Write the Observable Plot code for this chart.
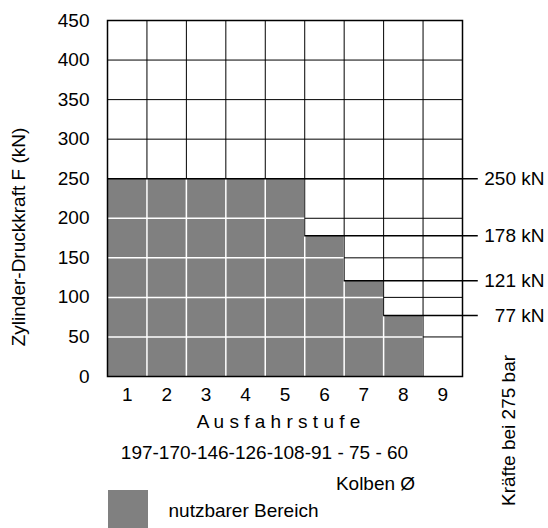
<!DOCTYPE html>
<html>
<head>
<meta charset="utf-8">
<script src="https://cdn.jsdelivr.net/npm/d3@7"></script>
<script src="https://cdn.jsdelivr.net/npm/@observablehq/plot@0.6"></script>
<style>
  html, body { margin: 0; padding: 0; background: #fff; }
</style>
</head>
<body>
<div id="chart"></div>
<script>
// ---- data ----
const stages = [1, 2, 3, 4, 5, 6, 7, 8, 9];
const forces = [250, 250, 250, 250, 250, 178, 121, 77, 0];
const yTicks = [0, 50, 100, 150, 200, 250, 300, 350, 400, 450];
const forceMarks = [250, 178, 121, 77];
const forceUnit = "kN";
const diameterLabel = "197-170-146-126-108-91 - 75 - 60";
const xTitle = "A u s f a h r s t u f e";
const yTitle = "Zylinder-Druckkraft F (kN)";
const pistonLabel = "Kolben Ø";
const sideLabel = "Kräfte bei 275 bar";
const legendLabel = "nutzbarer Bereich";

// ---- derived tables ----
const grey = "#808080";
const bars = stages.map((s, i) => ({stage: s, force: forces[i]})).filter(d => d.force > 0);
const boundaries = d3.range(stages.length + 1).map(i => stages[0] - 0.5 + i);
// white vertical lines inside the grey area
const whiteV = stages.slice(0, -1).map((s, i) => ({x: s + 0.5, y2: Math.min(forces[i], forces[i + 1])})).filter(d => d.y2 > 0);
// white horizontal lines inside the grey area
const whiteH = yTicks.filter(t => t > 0).map(t => ({y: t, x2: stages[0] - 0.5 + forces.filter(f => f > t).length})).filter(d => d.x2 > stages[0] - 0.5);
// force lines from the first column carrying that value to the label
const lineEnd = 9.9;
const forceLines = forceMarks.map(v => ({y: v, x1: stages[forces.indexOf(v)] - 0.5}));

const W = 548, H = 528;
const font = "'Liberation Sans', Arial, Helvetica, sans-serif";

const chart = Plot.plot({
  width: W,
  height: H,
  marginLeft: 107,
  marginRight: 86,
  marginTop: 20,
  marginBottom: 152,
  style: {fontFamily: font, fontSize: "19px", background: "#fff", color: "#000"},
  x: {domain: [0.5, 9.5], axis: null},
  y: {domain: [0, 450], axis: null},
  marks: [
    // black grid
    Plot.ruleY(yTicks, {stroke: "#000", strokeWidth: 1}),
    Plot.ruleX(boundaries, {stroke: "#000", strokeWidth: 1}),
    // usable range
    Plot.rectY(bars, {x1: d => d.stage - 0.5, x2: d => d.stage + 0.5, y1: 0, y2: "force", fill: grey}),
    // white grid inside grey
    Plot.ruleX(whiteV, {x: "x", y1: 0, y2: "y2", stroke: "#fff", strokeWidth: 1.5}),
    Plot.ruleY(whiteH, {y: "y", x1: 0.5, x2: "x2", stroke: "#fff", strokeWidth: 1.5}),
    // force lines
    Plot.ruleY(forceLines, {y: "y", x1: "x1", x2: lineEnd, stroke: "#000", strokeWidth: 1.5, clip: false}),
    Plot.frame({stroke: "#000", strokeWidth: 1.5}),
    // axes
    Plot.axisY(yTicks, {tickSize: 0, tickPadding: 18, fontSize: 19, label: null}),
    Plot.axisX(stages, {tickSize: 0, tickPadding: 11, fontSize: 19, label: null, tickFormat: d => String(d)}),
    // force labels
    Plot.text(forceMarks, {y: d => d, text: d => `${d} ${forceUnit}`, frameAnchor: "right", dx: 82, textAnchor: "end", fontSize: 19}),
    // titles
    Plot.text([yTitle], {frameAnchor: "left", textAnchor: "middle", rotate: -90, dx: -88.5, dy: 38.5, fontSize: 19}),
    Plot.text([sideLabel], {frameAnchor: "bottom-right", textAnchor: "middle", rotate: -90, dx: 52.5, dy: 54, fontSize: 19}),
    Plot.text([xTitle], {frameAnchor: "bottom", dx: -6.5, dy: 51, fontSize: 19}),
    Plot.text([diameterLabel], {frameAnchor: "bottom", dx: -20.5, dy: 82, fontSize: 19}),
    Plot.text([pistonLabel], {frameAnchor: "bottom", dx: 90.5, dy: 113, fontSize: 19}),
    Plot.text([legendLabel], {frameAnchor: "bottom-left", textAnchor: "start", dx: 61, dy: 140, fontSize: 19})
  ]
});

// legend swatch
d3.select(chart).append("rect")
  .attr("x", 108).attr("y", 490).attr("width", 40).attr("height", 38)
  .attr("fill", grey);

document.getElementById("chart").appendChild(chart);
</script>
</body>
</html>
